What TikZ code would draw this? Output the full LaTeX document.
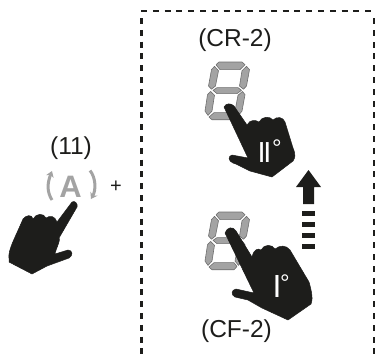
\documentclass[tikz,border=0pt]{standalone}
\usepackage{fontspec}
\setmainfont{Liberation Sans}
\usetikzlibrary{arrows.meta}
\definecolor{ink}{HTML}{1D1D1B}
\definecolor{seg}{HTML}{A3A3A3}
\definecolor{segline}{HTML}{6E6E6E}
\tikzset{
 handfill/.style={fill=ink,draw=ink,line width=0.5pt,line join=round},
 seven/.style={fill=seg,draw=segline,line width=0.6pt,line join=round},
 frame/.style={draw=ink,line width=2.6pt,dash pattern=on 6pt off 5.8pt},
 lab/.style={font=\fontsize{24.5}{28}\selectfont,text=ink,inner sep=0pt},
 whitelab/.style={text=white,inner sep=0pt},
 turn/.style={draw=seg,line width=3pt,-{Stealth[length=6pt,width=8pt]}}
}
\newcommand{\sevenseg}[2]{%
 \begin{scope}[shift={(#1,#2)},yscale=1.09]
 \path[seven] (11,2.5) -- (14,0) -- (37,0) -- (40,2.5) -- (35,7) -- (15,7) -- cycle;
 \path[seven] (9.5,4) -- (13.5,8) -- (10.5,22) -- (6.5,25) -- (3.5,22) -- (6.5,7) -- cycle;
 \path[seven] (41.5,4) -- (44.5,7) -- (41.5,22) -- (38.5,25) -- (34.5,22) -- (37,8) -- cycle;
 \path[seven] (8,26) -- (12,23.5) -- (33,23.5) -- (36.5,26) -- (32,29) -- (12,29) -- cycle;
 \path[seven] (5.5,27) -- (9.5,30.5) -- (7,45) -- (3,49) -- (0,45) -- (2.5,30) -- cycle;
 \path[seven] (37.5,27) -- (40,30) -- (37,45) -- (33.5,49) -- (30,45) -- (33,30.5) -- cycle;
 \path[seven] (4,50.5) -- (9,46.5) -- (29,46.5) -- (32,50) -- (29,53) -- (7,53) -- cycle;
 \end{scope}}
\begin{document}
\begin{tikzpicture}[x=1pt,y=-1pt]
\useasboundingbox (0,0) rectangle (375,360);
\clip (0,0) rectangle (375,360);
% dashed frame
\coordinate (ftl) at (141,11);
\coordinate (ftr) at (375,11);
\coordinate (fla) at (141.5,18);
\coordinate (flb) at (141.5,354);
\coordinate (fra) at (374.5,18);
\coordinate (frb) at (374.5,354);
\draw[frame] (ftl) -- (ftr);
\draw[frame] (fla) -- (flb);
\draw[frame] (fra) -- (frb);
% labels
\node[lab] (l11) at (71,148.5) {(11)};
\node[lab] (lcr) at (235,40) {(CR-2)};
\node[lab] (lcf) at (236.5,331.5) {(CF-2)};
\node[font=\fontsize{20}{22}\selectfont,text=ink,inner sep=0pt] (plus) at (116,187) {+};
% A knob
\node[font=\bfseries\fontsize{31}{34}\selectfont,text=seg,inner sep=0pt] (knoba) at (70.5,187) {A};
\coordinate (ala) at (52,200);
\coordinate (alb) at (52,171);
\coordinate (ara) at (90,170.5);
\coordinate (arb) at (91,199);
\draw[turn] (ala) .. controls (47,192) and (47,184) .. (alb);
\draw[turn] (ara) .. controls (96,178) and (96,190) .. (arb);
% left hand
\path[handfill] (72,202) .. controls (75,200) and (78,204) .. (77,207)
 -- (59,238) .. controls (61,240) and (55,251) .. (55,254)
 -- (68,250) .. controls (73,250) and (73,256) .. (69,258)
 -- (47,266) -- (32,274)
 -- (9,262) -- (9,258)
 .. controls (8,250) and (14,240) .. (23,219)
 .. controls (26,215) and (32,214) .. (33,219)
 .. controls (36,213) and (44,213) .. (46,218)
 .. controls (50,215) and (55,216) .. (57,222) -- cycle;
% top display + hand
\sevenseg{205}{62}
\path[handfill] (224,107) .. controls (226,103) and (231,103) .. (234,106)
 -- (247,125) .. controls (250,119) and (256,120) .. (259,122)
 .. controls (262,116) and (270,116) .. (273,120)
 .. controls (277,116) and (283,117) .. (285,122)
 -- (293,148) .. controls (296,155) and (295,158) .. (293,161)
 -- (272,177) -- (250,171) -- (236,164) -- (233,163)
 .. controls (228,161) and (228,156) .. (232,155)
 -- (248,158) -- cycle;
\node[whitelab,font=\fontsize{29}{30}\selectfont] (t2) at (264.5,152.5) {I\kern-2.4pt I};
\node[whitelab,font=\fontsize{24}{26}\selectfont,anchor=north] (d2) at (277,140) {°};
% bottom display + hand
\sevenseg{205}{212}
\path[handfill] (225,233) .. controls (227,227) and (233,226) .. (236,231)
 -- (252,257) .. controls (254,249) and (258,248) .. (261,250)
 .. controls (264,244) and (272,244) .. (275,249)
 .. controls (280,245) and (286,245) .. (290,250)
 -- (309,282) .. controls (312,292) and (313,300) .. (311,304)
 -- (288,320) -- (262,308) -- (248,300) -- (235,297)
 .. controls (231,295) and (231,290) .. (236,289)
 -- (254,293) -- cycle;
\node[whitelab,font=\fontsize{32}{34}\selectfont] (t1) at (277,286.5) {I};
\node[whitelab,font=\fontsize{24}{26}\selectfont,anchor=north] (d1) at (285,275) {°};
% arrow
\fill[ink] (296,187) -- (308.5,170) -- (321,187) -- (314,187) -- (314,204) -- (303,204) -- (303,187) -- cycle;
\foreach \yy in {211,222,233,244}{\fill[ink] (302,\yy) rectangle (315,\yy+5.3);}
\end{tikzpicture}
\end{document}
